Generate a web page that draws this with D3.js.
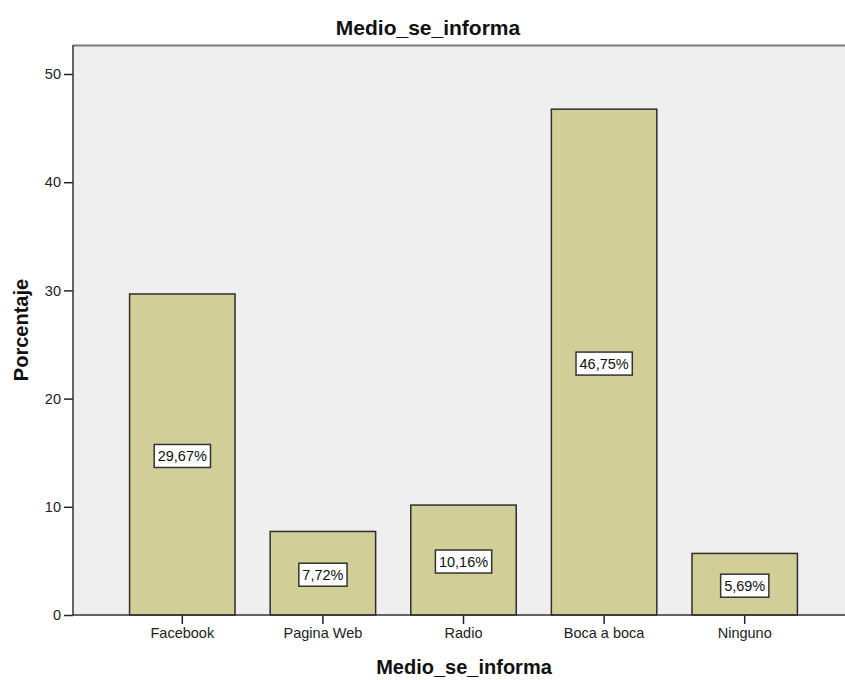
<!DOCTYPE html>
<html>
<head>
<meta charset="utf-8">
<script src="https://cdn.jsdelivr.net/npm/d3@7"></script>
<style>
  html, body { margin: 0; padding: 0; background: #fff; }
  svg { display: block; font-family: "Liberation Sans", Arial, sans-serif; }
</style>
</head>
<body>
<svg id="chart" width="845" height="680"></svg>
<script>
// Medio por el que se informa: porcentaje de respuestas
const categories = ["Facebook", "Pagina Web", "Radio", "Boca a boca", "Ninguno"];
const percentages = [29.67, 7.72, 10.16, 46.75, 5.69];
const yTicks = [0, 10, 20, 30, 40, 50];
const chartTitle = "Medio_se_informa";
const xTitle = "Medio_se_informa";
const yTitle = "Porcentaje";

const data = categories.map((c, i) => ({ cat: c, val: percentages[i] }));

const svg = d3.select("#chart");
const plot = { left: 73, top: 45, right: 850, bottom: 615 };

const x = d3.scaleBand()
  .domain(categories)
  .range([112, 815])
  .paddingInner(0.25)
  .paddingOuter(0.125);

const y = d3.scaleLinear()
  .domain([0, 50])
  .range([plot.bottom, 74]);

// plot background
svg.append("rect")
  .attr("x", plot.left).attr("y", plot.top)
  .attr("width", plot.right - plot.left).attr("height", plot.bottom - plot.top)
  .attr("fill", "#efefef");

// top frame line
svg.append("line")
  .attr("x1", plot.left).attr("x2", plot.right)
  .attr("y1", plot.top + 0.5).attr("y2", plot.top + 0.5)
  .attr("stroke", "#7a7a7a").attr("stroke-width", 2);

// bars
svg.append("g").selectAll("rect")
  .data(data).join("rect")
  .attr("x", d => x(d.cat))
  .attr("y", d => y(d.val))
  .attr("width", x.bandwidth())
  .attr("height", d => y(0) - y(d.val))
  .attr("fill", "#d2ce98")
  .attr("stroke", "#2e2e2e")
  .attr("stroke-width", 1.5);

// y axis
const yAxis = svg.append("g")
  .attr("transform", `translate(${plot.left},0)`)
  .call(d3.axisLeft(y).tickValues(yTicks).tickSize(9).tickPadding(3).tickFormat(d3.format("d")));
yAxis.select(".domain").remove();
yAxis.selectAll(".tick line").attr("stroke", "#222").attr("stroke-width", 1.5);
yAxis.selectAll(".tick text").attr("font-size", "14.5px").attr("fill", "#222")
  .attr("font-family", "Liberation Sans, Arial, sans-serif");
svg.append("line")
  .attr("x1", plot.left).attr("x2", plot.left)
  .attr("y1", plot.top).attr("y2", plot.bottom)
  .attr("stroke", "#333").attr("stroke-width", 1.5);

// x axis
const xAxis = svg.append("g")
  .attr("transform", `translate(0,${plot.bottom})`)
  .call(d3.axisBottom(x).tickSize(9).tickPadding(4));
xAxis.select(".domain").remove();
xAxis.selectAll(".tick line").attr("stroke", "#222").attr("stroke-width", 1.5);
xAxis.selectAll(".tick text").attr("font-size", "14.5px").attr("fill", "#222")
  .attr("font-family", "Liberation Sans, Arial, sans-serif");
svg.append("line")
  .attr("x1", plot.left).attr("x2", plot.right)
  .attr("y1", plot.bottom).attr("y2", plot.bottom)
  .attr("stroke", "#333").attr("stroke-width", 1.5);

// value labels in boxes at bar mid-height
const fmt = v => v.toFixed(2).replace(".", ",") + "%";
const labels = svg.append("g").selectAll("g")
  .data(data).join("g")
  .attr("transform", d => `translate(${x(d.cat) + x.bandwidth() / 2},${y(d.val / 2) + 1.5})`);
labels.each(function (d) {
  const g = d3.select(this);
  const t = g.append("text")
    .attr("text-anchor", "middle")
    .attr("dy", "0.36em")
    .attr("font-size", "14.5px")
    .attr("fill", "#111")
    .text(fmt(d.val));
  const b = t.node().getBBox();
  g.insert("rect", "text")
    .attr("x", b.x - 3.5).attr("y", -11.5)
    .attr("width", b.width + 7).attr("height", 23)
    .attr("fill", "#fff")
    .attr("stroke", "#333")
    .attr("stroke-width", 1.5);
});

// titles
svg.append("text")
  .attr("x", 428).attr("y", 35)
  .attr("text-anchor", "middle")
  .attr("font-size", "21px").attr("font-weight", "bold").attr("fill", "#111")
  .text(chartTitle);

svg.append("text")
  .attr("x", 464).attr("y", 674)
  .attr("text-anchor", "middle")
  .attr("font-size", "20px").attr("font-weight", "bold").attr("fill", "#111")
  .text(xTitle);

svg.append("text")
  .attr("transform", "translate(28,330) rotate(-90)")
  .attr("text-anchor", "middle")
  .attr("font-size", "20px").attr("font-weight", "bold").attr("fill", "#111")
  .text(yTitle);
</script>
</body>
</html>
